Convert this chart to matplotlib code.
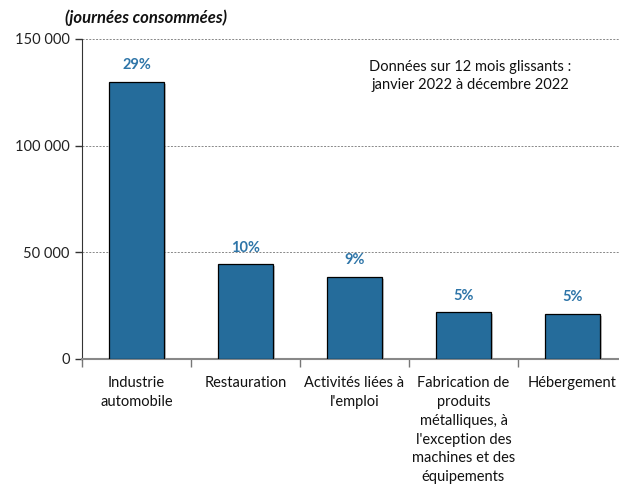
import matplotlib.pyplot as plt
import matplotlib.patheffects as pe
from matplotlib.ticker import FuncFormatter

plt.rcParams['font.family'] = ['Lato', 'DejaVu Sans']

secteurs = ['Industrie\nautomobile', 'Restauration', 'Activités liées à\nl\'emploi',
            'Fabrication de\nproduits\nmétalliques, à\nl\'exception des\nmachines et des\néquipements',
            'Hébergement']
journees = [130000, 44400, 38400, 21900, 21000]
parts = ['29%', '10%', '9%', '5%', '5%']

bleu = '#256C9B'

fig = plt.figure(figsize=(6.19, 4.87), dpi=100)
ax = fig.add_axes([82 / 619, 1 - 359 / 487, 545 / 619, 320 / 487])

x = range(len(secteurs))
bars = ax.bar(x, journees, width=0.5, color=bleu, edgecolor='black', linewidth=0.9, zorder=3)
for b in bars:
    b.set_path_effects([pe.SimplePatchShadow(offset=(1.5, -1.5), shadow_rgbFace='#999999', alpha=0.6), pe.Normal()])

for xi, v, p in zip(x, journees, parts):
    ax.annotate(p, (xi, v), xytext=(0, 7), textcoords='offset points',
                ha='center', va='bottom', fontsize=10.5, fontweight='bold', color='#2E75A8')

ax.set_xlim(-0.5, 4.5)
ax.set_ylim(0, 150000)
ax.set_yticks([0, 50000, 100000, 150000])
ax.yaxis.set_major_formatter(FuncFormatter(lambda v, pos: f'{int(v):,}'.replace(',', ' ')))
ax.yaxis.grid(True, linestyle=(0, (2, 1.5)), color='#888888', linewidth=0.7, zorder=0)

ax.set_xticks(list(x))
ax.set_xticklabels(secteurs, fontsize=10.5, color='#111111', linespacing=1.45)
ax.tick_params(axis='x', which='major', length=0, pad=12)
ax.set_xticks([i - 0.5 for i in range(len(secteurs) + 1)], minor=True)
ax.tick_params(axis='x', which='minor', length=6, width=1, color='#777777')
ax.tick_params(axis='y', length=5, width=1, color='#333333', labelsize=10.5, labelcolor='#222222', pad=4)

for s in ['top', 'right']:
    ax.spines[s].set_visible(False)
ax.spines['left'].set_color('#333333')
ax.spines['bottom'].set_color('#888888')
ax.spines['bottom'].set_linewidth(1.5)

fig.text(65 / 619, 1 - 18 / 487, '(journées consommées)', fontsize=12, fontweight='bold',
         fontstyle='italic', ha='left', va='center', color='#111111')
fig.text(470 / 619, 1 - 76 / 487, 'Données sur 12 mois glissants :\njanvier 2022 à décembre 2022',
         fontsize=10.5, ha='center', va='center', color='#111111', linespacing=1.4)

fig.savefig('out.png', dpi=100)
